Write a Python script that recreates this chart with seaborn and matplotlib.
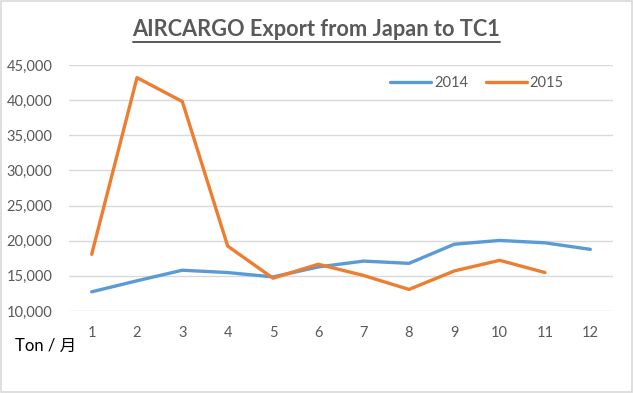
import matplotlib
matplotlib.use("Agg")
import matplotlib.pyplot as plt
import matplotlib.ticker as mticker
from matplotlib.lines import Line2D
from matplotlib.patches import Rectangle
import pandas as pd
import seaborn as sns

# Data
months = [1, 2, 3, 4, 5, 6, 7, 8, 9, 10, 11, 12]
export_2014 = [12730, 14300, 15800, 15470, 14850, 16270, 17100, 16780, 19500, 20040, 19700, 18770]
export_2015 = [18060, 43200, 39800, 19240, 14670, 16650, 15050, 13070, 15700, 17210, 15470]
y_ticks = [10000, 15000, 20000, 25000, 30000, 35000, 40000, 45000]

rows = []
for m, v in zip(months, export_2014):
    rows.append({"month": m, "value": v, "year": "2014"})
for m, v in zip(months, export_2015):
    rows.append({"month": m, "value": v, "year": "2015"})
df = pd.DataFrame(rows)

sns.set_style("white")
plt.rcParams["font.family"] = ["Lato", "Noto Sans CJK JP", "DejaVu Sans"]

grey = "#595959"
fig = plt.figure(figsize=(6.33, 3.93), dpi=100)
ax = fig.add_axes([69 / 633, 1 - 311 / 393, (613 - 69) / 633, (311 - 65) / 393])

sns.lineplot(data=df, x="month", y="value", hue="year",
             palette={"2014": "#5B9BD5", "2015": "#ED7D31"},
             linewidth=2.4, ax=ax, legend=False)

ax.set_xlim(0.5, 12.5)
ax.set_ylim(10000, 45000)
ax.set_xticks(months)
ax.set_yticks(y_ticks)
ax.yaxis.set_major_formatter(mticker.FuncFormatter(lambda v, p: f"{int(v):,}"))
ax.tick_params(axis="both", length=0, labelsize=10.5, colors=grey)
ax.tick_params(axis="x", pad=11)
ax.tick_params(axis="y", pad=12)
ax.grid(axis="y", color="#D9D9D9", linewidth=1)
ax.set_axisbelow(True)
for s in ax.spines.values():
    s.set_visible(False)
ax.set_xlabel("")
ax.set_ylabel("")

handles = [Line2D([], [], color="#5B9BD5", linewidth=2.4),
           Line2D([], [], color="#ED7D31", linewidth=2.4)]
leg = ax.legend(handles, ["2014", "2015"], ncol=2, frameon=False,
                loc="center", bbox_to_anchor=(0.75, 0.925),
                fontsize=10.5, handlelength=2.8, columnspacing=1.2, handletextpad=0.2)
for t in leg.get_texts():
    t.set_color(grey)

title = fig.text(0.5, 1 - 30 / 393, "AIRCARGO Export from Japan to TC1",
                 ha="center", va="center", fontsize=15.7, fontweight="bold", color=grey)
fig.text(15 / 633, 1 - 346 / 393, "Ton / 月", ha="left", va="center",
         fontsize=12, color="black")

# underline the title
fig.canvas.draw()
bb = title.get_window_extent().transformed(fig.transFigure.inverted())
fig.add_artist(Line2D([bb.x0, bb.x1], [bb.y0 - 0.004, bb.y0 - 0.004],
                      transform=fig.transFigure, color=grey, linewidth=1.4))

# light outer border
fig.add_artist(Rectangle((0.002, 0.003), 0.996, 0.994, transform=fig.transFigure,
                         fill=False, edgecolor="#D9D9D9", linewidth=1.2))

fig.savefig("out.png", dpi=100)
